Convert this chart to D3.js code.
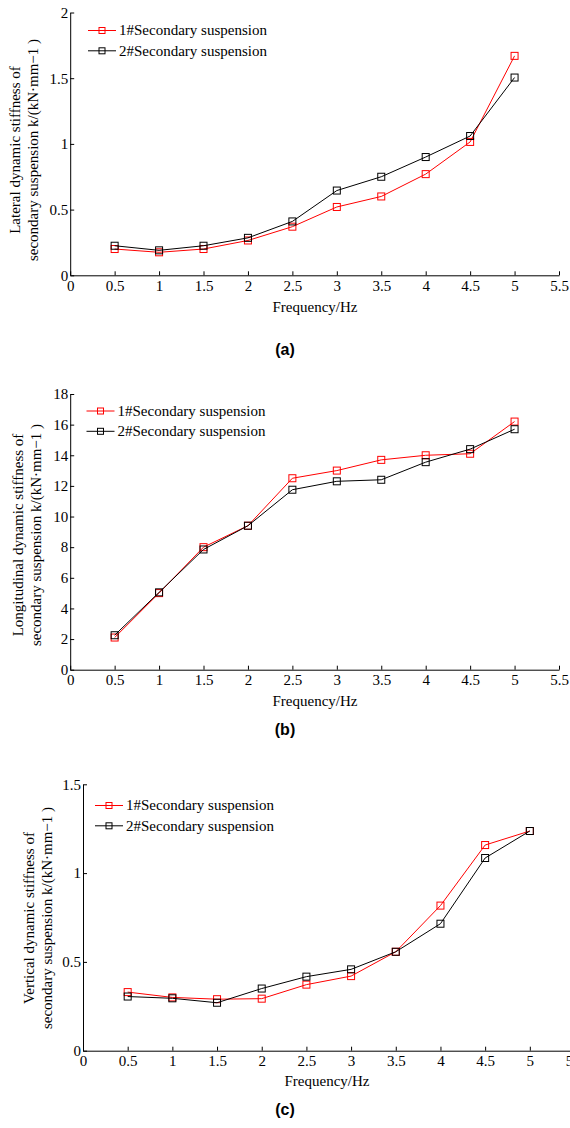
<!DOCTYPE html>
<html><head><meta charset="utf-8">
<script src="https://cdn.jsdelivr.net/npm/d3@7"></script>
<style>
body{margin:0;background:#fff;}
svg{display:block;}
</style></head>
<body>
<svg id="chart" width="570" height="1128"></svg>
<script>
// ---- data ----
const freq = [0.5, 1, 1.5, 2, 2.5, 3, 3.5, 4, 4.5, 5];
const seriesNames = ["1#Secondary suspension", "2#Secondary suspension"];
const seriesColors = ["#ff0000", "#000000"];
const lateral1 = [0.20, 0.175, 0.20, 0.265, 0.37, 0.52, 0.60, 0.77, 1.015, 1.67];
const lateral2 = [0.225, 0.19, 0.225, 0.285, 0.41, 0.645, 0.75, 0.90, 1.06, 1.505];
const longitudinal1 = [2.1, 5.0, 8.0, 9.4, 12.5, 13.0, 13.7, 14.0, 14.1, 16.2];
const longitudinal2 = [2.25, 5.05, 7.85, 9.4, 11.75, 12.3, 12.4, 13.55, 14.4, 15.7];
const vertical1 = [0.33, 0.30, 0.29, 0.293, 0.372, 0.42, 0.557, 0.817, 1.158, 1.237];
const vertical2 = [0.305, 0.295, 0.27, 0.35, 0.417, 0.458, 0.557, 0.715, 1.085, 1.237];
const xTicks = [0, 0.5, 1, 1.5, 2, 2.5, 3, 3.5, 4, 4.5, 5, 5.5];
const yTicksA = [0, 0.5, 1, 1.5, 2];
const yTicksB = [0, 2, 4, 6, 8, 10, 12, 14, 16, 18];
const yTicksC = [0, 0.5, 1, 1.5];
const panelTitles = ["(a)", "(b)", "(c)"];
const yLabels = [
  ["Lateral dynamic stiffness of", "secondary suspension k/(kN·mm\u22121 )"],
  ["Longitudinal dynamic stiffness of", "secondary suspension k/(kN·mm\u22121 )"],
  ["Vertical dynamic stiffness of", "secondary suspension k/(kN·mm\u22121 )"]
];
const xLabel = "Frequency/Hz";

// ---- layout ----
const SERIF = '"Liberation Serif","Times New Roman",serif';
const SANS = '"Liberation Sans",Arial,sans-serif';
const panels = [
  {s1: lateral1, s2: lateral2, yTicks: yTicksA, ymax: 2, x0: 70.2, x55: 559, yTop: 12.5, yBot: 275.3,
   lab1x: 15, lab2x: 33, labY: 150, legX: 88, legY: 30.5, xLabY: 307, xLabX: 315, titleY: 349},
  {s1: longitudinal1, s2: longitudinal2, yTicks: yTicksB, ymax: 18, x0: 70.2, x55: 559, yTop: 394, yBot: 669.7,
   lab1x: 18.5, lab2x: 36.5, labY: 535, legX: 86.5, legY: 411, xLabY: 701.5, xLabX: 315, titleY: 729},
  {s1: vertical1, s2: vertical2, yTicks: yTicksC, ymax: 1.5, x0: 83, x55: 574.5, yTop: 784.3, yBot: 1050.7,
   lab1x: 29.5, lab2x: 47, labY: 918, legX: 95, legY: 805.5, xLabY: 1081.5, xLabX: 327, titleY: 1109}
];

const svg = d3.select("#chart");

panels.forEach((p, i) => {
  const g = svg.append("g").attr("font-family", SERIF);
  const x = d3.scaleLinear().domain([0, 5.5]).range([p.x0, p.x55]);
  const y = d3.scaleLinear().domain([0, p.ymax]).range([p.yBot, p.yTop]);

  const fmt = d => String(d);
  const xa = g.append("g").attr("transform", `translate(0,${p.yBot})`)
    .call(d3.axisBottom(x).tickValues(xTicks).tickFormat(fmt).tickSizeInner(-4).tickSizeOuter(0).tickPadding(5));
  const ya = g.append("g").attr("transform", `translate(${p.x0},0)`)
    .call(d3.axisLeft(y).tickValues(p.yTicks).tickFormat(fmt).tickSizeInner(-4).tickSizeOuter(0).tickPadding(2));
  [xa, ya].forEach(a => {
    a.attr("font-family", SERIF).attr("font-size", 15);
    a.selectAll("text").attr("fill", "#000");
    a.selectAll("line,path").attr("stroke", "#000").attr("stroke-width", 1);
  });

  const line = d3.line().x((d, k) => x(freq[k])).y(d => y(d));
  [p.s1, p.s2].forEach((s, si) => {
    g.append("path").datum(s).attr("d", line).attr("fill", "none")
      .attr("stroke", seriesColors[si]).attr("stroke-width", 1);
    g.selectAll(null).data(s).enter().append("rect")
      .attr("x", (d, k) => x(freq[k]) - 3.5).attr("y", d => y(d) - 3.5)
      .attr("width", 7).attr("height", 7)
      .attr("fill", "none").attr("stroke", seriesColors[si]).attr("stroke-width", 1);
  });

  // legend
  seriesNames.forEach((n, si) => {
    const ly = p.legY + si * 20.3;
    g.append("line").attr("x1", p.legX).attr("x2", p.legX + 28).attr("y1", ly).attr("y2", ly)
      .attr("stroke", seriesColors[si]).attr("stroke-width", 1);
    g.append("rect").attr("x", p.legX + 14 - 3).attr("y", ly - 3).attr("width", 6).attr("height", 6)
      .attr("fill", "none").attr("stroke", seriesColors[si]).attr("stroke-width", 1);
    g.append("text").attr("x", p.legX + 31).attr("y", ly).attr("dy", "0.33em")
      .attr("font-size", 15).attr("fill", "#000").text(n);
  });

  // y label
  g.append("text").attr("transform", `translate(${p.lab1x},${p.labY}) rotate(-90)`)
    .attr("text-anchor", "middle").attr("dy", "0.33em").attr("font-size", 15).attr("fill", "#000")
    .text(yLabels[i][0]);
  g.append("text").attr("transform", `translate(${p.lab2x},${p.labY}) rotate(-90)`)
    .attr("text-anchor", "middle").attr("dy", "0.33em").attr("font-size", 15).attr("fill", "#000")
    .text(yLabels[i][1]);

  // x label
  g.append("text").attr("x", p.xLabX).attr("y", p.xLabY).attr("dy", "0.33em")
    .attr("text-anchor", "middle").attr("font-size", 15).attr("fill", "#000").text(xLabel);

  // title
  g.append("text").attr("x", 285).attr("y", p.titleY).attr("dy", "0.35em")
    .attr("text-anchor", "middle").attr("font-size", 16).attr("font-weight", "bold")
    .attr("font-family", SANS).attr("fill", "#000").text(panelTitles[i]);
});
</script>
</body></html>
